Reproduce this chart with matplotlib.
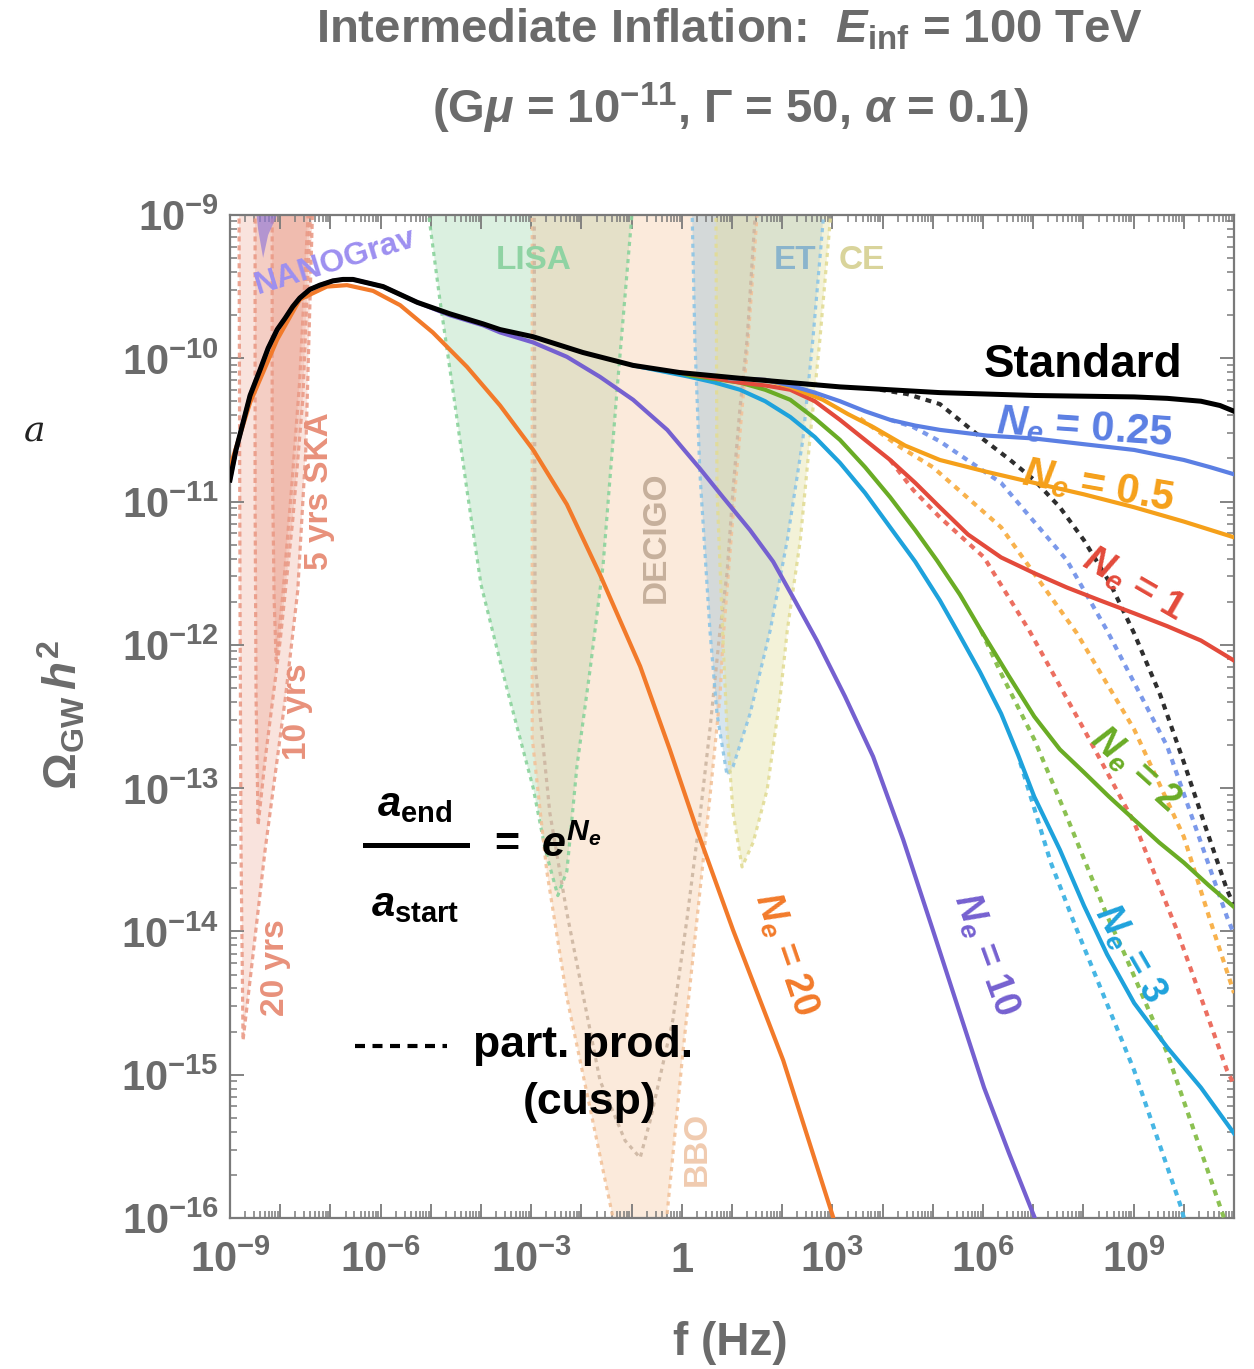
import numpy as np
import matplotlib
matplotlib.use("Agg")
import matplotlib.pyplot as plt
from matplotlib import font_manager as fm
from matplotlib.ticker import FixedLocator, FixedFormatter, NullFormatter

# ---------------- data (log10 f [Hz], log10 Omega h^2) ----------------
std_lf = [-9.0, -8.88, -8.74, -8.60, -8.40, -8.24, -8.06, -7.90, -7.75, -7.61, -7.41, -7.21, -6.95,
          -6.75, -6.55, -5.95, -5.27, -4.62, -3.96, -3.62, -2.96, -1.97, -0.97, -0.04, 1.16, 3.15,
          5.14, 7.02, 9.01, 9.67, 10.34, 10.72, 11.0]
std_lo = [-10.85, -10.64, -10.45, -10.26, -10.08, -9.93, -9.80, -9.72, -9.64, -9.58, -9.52, -9.49, -9.46,
          -9.45, -9.45, -9.50, -9.61, -9.69, -9.76, -9.80, -9.85, -9.96, -10.05, -10.10, -10.14, -10.20,
          -10.24, -10.26, -10.27, -10.28, -10.30, -10.33, -10.37]

ne20_lf = [-9.0, -8.60, -8.06, -7.61, -7.07, -6.67, -6.15, -5.61, -4.96, -4.28, -3.62, -2.96, -2.29,
           -1.63, -0.83, -0.24, 0.30, 1.02, 2.02, 3.01]
ne20_lo = [-10.76, -10.31, -9.87, -9.59, -9.50, -9.49, -9.53, -9.63, -9.82, -10.06, -10.33, -10.64, -11.02,
           -11.51, -12.15, -12.73, -13.29, -13.99, -14.90, -15.99]

ne10_lf = [-9.0, -8.88, -8.74, -8.60, -8.40, -8.24, -8.06, -7.90, -7.75, -7.61, -7.41, -7.21, -6.95,
           -6.75, -6.55, -5.95, -5.27, -4.62, -3.96, -3.62, -2.96, -2.29, -1.63, -0.97, -0.29, 0.36,
           0.82, 1.36, 1.82, 2.25, 2.69, 3.25, 3.81, 4.41, 5.00, 5.50, 6.02, 6.52, 7.02]
ne10_lo = [-10.85, -10.64, -10.45, -10.26, -10.08, -9.93, -9.80, -9.72, -9.64, -9.58, -9.52, -9.49, -9.46,
           -9.45, -9.45, -9.50, -9.61, -9.70, -9.77, -9.82, -9.89, -9.99, -10.13, -10.29, -10.50, -10.77,
           -10.97, -11.20, -11.42, -11.69, -11.97, -12.36, -12.78, -13.36, -13.99, -14.53, -15.09, -15.55,
           -15.99]

ne3_lf = [-0.97, 0.16, 0.66, 1.16, 1.66, 2.16, 2.65, 3.15, 3.65, 4.15, 4.65, 5.14, 5.48, 5.94, 6.36, 6.70,
          7.02, 7.53, 8.01, 8.47, 9.01, 9.67, 10.34, 11.0]
ne3_lo = [-10.05, -10.13, -10.17, -10.22, -10.30, -10.41, -10.55, -10.73, -10.94, -11.18, -11.42, -11.69,
          -11.90, -12.19, -12.48, -12.77, -13.06, -13.43, -13.82, -14.16, -14.50, -14.81, -15.09, -15.41]

ne2_lf = [-0.04, 0.16, 1.16, 1.66, 2.16, 2.65, 3.15, 3.65, 4.15, 4.65, 5.08, 5.54, 5.96, 6.50, 7.02, 7.53,
          8.01, 8.51, 9.01, 9.51, 10.0, 10.50, 11.0]
ne2_lo = [-10.10, -10.12, -10.17, -10.22, -10.29, -10.42, -10.57, -10.76, -10.97, -11.20, -11.41, -11.65,
          -11.90, -12.21, -12.50, -12.73, -12.89, -13.06, -13.22, -13.38, -13.52, -13.68, -13.83]

ne1_lf = [-0.04, 0.16, 1.16, 1.66, 2.16, 2.65, 3.15, 3.65, 4.15, 4.65, 5.14, 5.70, 6.36, 7.02, 7.67, 8.33,
          9.01, 9.67, 10.34, 11.0]
ne1_lo = [-10.10, -10.11, -10.17, -10.19, -10.22, -10.30, -10.43, -10.57, -10.71, -10.87, -11.04, -11.23,
          -11.39, -11.50, -11.60, -11.69, -11.78, -11.87, -11.97, -12.11]

ne05_lf = [0.96, 1.66, 2.16, 2.81, 3.31, 3.81, 4.45, 5.14, 6.04, 7.02, 8.01, 9.01, 10.0, 11.0]
ne05_lo = [-10.14, -10.15, -10.20, -10.29, -10.39, -10.48, -10.61, -10.71, -10.79, -10.87, -10.95, -11.04,
           -11.14, -11.25]

ne025_lf = [0.96, 1.66, 2.16, 2.65, 3.15, 3.65, 4.15, 4.65, 5.14, 6.08, 7.02, 8.01, 9.01, 10.0, 10.52, 11.0]
ne025_lo = [-10.14, -10.15, -10.19, -10.24, -10.30, -10.37, -10.43, -10.47, -10.50, -10.54, -10.56, -10.60,
            -10.64, -10.71, -10.76, -10.81]

# particle production (cusp) curves
pp_std_lf = [3.95, 4.49, 5.14, 6.02, 6.54, 7.02, 7.53, 8.01, 8.53, 9.01, 9.53, 10.0, 10.44, 10.86, 11.0]
pp_std_lo = [-10.22, -10.25, -10.32, -10.57, -10.71, -10.85, -11.04, -11.27, -11.57, -11.92, -12.35,
             -12.82, -13.28, -13.71, -13.82]
pp025_lf = [4.15, 4.61, 5.14, 6.36, 7.67, 8.47, 9.67, 10.86, 11.0]
pp025_lo = [-10.43, -10.48, -10.58, -10.87, -11.41, -11.90, -12.71, -13.90, -14.02]
pp05_lf = [3.55, 4.35, 5.0, 6.36, 7.87, 9.01, 10.0, 10.54, 11.0]
pp05_lo = [-10.42, -10.62, -10.76, -11.18, -11.92, -12.59, -13.34, -13.94, -14.43]
pp1_lf = [4.15, 4.61, 5.14, 6.02, 6.92, 8.01, 9.01, 9.86, 10.86, 11.0]
pp1_lo = [-10.71, -10.92, -11.11, -11.39, -11.90, -12.59, -13.24, -13.99, -14.97, -15.07]
pp2_lf = [5.96, 6.36, 7.02, 7.67, 8.47, 8.81, 9.67, 10.8]
pp2_lo = [-11.90, -12.20, -12.66, -13.20, -13.89, -14.15, -14.85, -16.0]
pp3_lf = [6.74, 7.35, 7.87, 9.01, 9.94, 10.0]
pp3_lo = [-12.82, -13.52, -13.99, -14.97, -15.92, -16.0]

# sensitivity regions (closed outlines)
ska20_lf = [-8.82, -8.80, -8.78, -8.74, -8.60, -8.30, -7.90, -7.65, -7.49, -7.35]
ska20_lo = [-8.90, -11.69, -13.43, -14.76, -14.34, -13.43, -12.38, -11.62, -10.64, -8.90]
ska10_lf = [-8.50, -8.50, -8.48, -8.44, -8.30, -8.00, -7.75, -7.55, -7.39]
ska10_lo = [-8.90, -10.99, -12.38, -13.26, -12.80, -11.97, -11.13, -10.29, -8.90]
ska5_lf = [-8.16, -8.16, -8.12, -8.08, -7.94, -7.76, -7.61, -7.43]
ska5_lo = [-8.90, -10.64, -11.69, -12.11, -11.62, -10.85, -10.15, -8.90]
nano_lf = [-8.50, -8.44, -8.34, -8.24, -8.06, -8.04]
nano_lo = [-8.90, -9.10, -9.30, -9.14, -9.0, -8.90]
lisa_lf = [-5.08, -4.82, -4.56, -4.28, -4.00, -3.48, -2.96, -2.72, -2.47, -2.29, -2.19, -2.09, -1.83,
           -1.57, -1.29, -0.97]
lisa_lo = [-8.90, -9.59, -10.22, -10.92, -11.58, -12.31, -13.00, -13.43, -13.75, -13.58, -13.22, -12.85,
           -12.18, -11.45, -10.22, -8.90]
bbo_lf = [-2.98, -2.98, -2.69, -2.29, -1.77, -1.37, -1.27, -0.29, -0.29, 0.02, 0.30, 0.56, 0.76, 0.82,
          1.06, 1.32, 1.52]
bbo_lo = [-8.90, -12.65, -13.58, -14.46, -15.33, -16.0, -16.15, -16.15, -15.96, -14.85, -13.92, -13.06,
          -12.36, -11.97, -10.92, -9.87, -8.90]
decigo_lf = [-2.94, -2.92, -2.63, -2.29, -1.63, -1.13, -0.83, -0.63, -0.18, 0.10, 0.36, 0.56, 0.76, 0.90,
             1.02, 1.16, 1.30, 1.48]
decigo_lo = [-8.90, -12.15, -13.17, -13.87, -15.04, -15.46, -15.58, -15.32, -14.62, -13.92, -13.20, -12.59,
             -11.90, -11.50, -10.92, -10.34, -9.87, -8.90]
et_lf = [0.20, 0.26, 0.36, 0.56, 0.70, 0.90, 1.02, 1.36, 1.76, 2.10, 2.41, 2.61, 2.85]
et_lo = [-8.90, -9.87, -10.80, -11.90, -12.48, -12.91, -12.85, -12.48, -11.90, -11.27, -10.57, -9.87, -8.90]
ce_lf = [0.68, 0.70, 0.82, 0.90, 1.02, 1.20, 1.42, 1.70, 1.96, 2.10, 2.36, 2.55, 2.75, 2.99]
ce_lo = [-8.90, -10.92, -11.97, -12.59, -13.17, -13.55, -13.38, -13.01, -12.36, -11.90, -11.27, -10.57,
         -9.87, -8.90]

x_decades = list(range(-9, 12))
x_labels = ["$10^{-9}$", "", "", "$10^{-6}$", "", "", "$10^{-3}$", "", "", "$1$", "", "", "$10^{3}$",
            "", "", "$10^{6}$", "", "", "$10^{9}$", "", ""]
y_decades = list(range(-16, -8))
y_labels = ["$10^{-16}$", "$10^{-15}$", "$10^{-14}$", "$10^{-13}$", "$10^{-12}$", "$10^{-11}$",
            "$10^{-10}$", "$10^{-9}$"]

# ---------------- fonts ----------------
installed = {f.name for f in fm.fontManager.ttflist}
NARROW = "Liberation Sans Narrow" if "Liberation Sans Narrow" in installed else "Liberation Sans"
SANS = "Liberation Sans"
plt.rcParams["mathtext.fontset"] = "custom"
plt.rcParams["mathtext.rm"] = NARROW + ":bold"
plt.rcParams["mathtext.bf"] = NARROW + ":bold"
plt.rcParams["mathtext.it"] = SANS + ":bold:italic"
plt.rcParams["mathtext.sf"] = SANS + ":bold"

GRAY = "#6b6b6b"
AXC = "#7a7a7a"


def P(lf, lo):
    return 10.0 ** np.asarray(lf), 10.0 ** np.asarray(lo)


fig = plt.figure(figsize=(12.54, 13.69), dpi=100)
ax = fig.add_axes([0.1834, 0.1103, 0.8007, 0.7327])
ax.set_xscale("log")
ax.set_yscale("log")

# ---------------- regions ----------------
def region(lf, lo, face, alpha, edge, ls=(0, (1.3, 1.4)), lw=2.3):
    x, y = P(lf, lo)
    if face is not None:
        ax.fill(x, y, color=face, alpha=alpha, lw=0, zorder=1)
    ax.plot(np.append(x, x[0]), np.append(y, y[0]), color=edge, lw=lw, ls=ls, zorder=2, alpha=0.9)

ska_dash = (0, (1.6, 1.2))
region(ska20_lf, ska20_lo, "#e8907a", 0.25, "#ea9a86", ska_dash)
region(ska10_lf, ska10_lo, "#e8907a", 0.25, "#ea9a86", ska_dash)
region(ska5_lf, ska5_lo, "#e8907a", 0.28, "#ea9a86", ska_dash)
ax.fill(*P(nano_lf, nano_lo), color="#9077d8", alpha=0.65, lw=0, zorder=2)
region(lisa_lf, lisa_lo, "#8fd3a0", 0.32, "#8ad39c")
region(bbo_lf, bbo_lo, "#f5c8a2", 0.38, "#f2c29a")
region(decigo_lf, decigo_lo, None, 0, "#cdb6a2")
region(et_lf, et_lo, "#9ec3d8", 0.42, "#8cc5e6")
region(ce_lf, ce_lo, "#e3e0a4", 0.42, "#e2dc96")

# ---------------- curves ----------------
dot = (0, (1.4, 1.4))
for lf, lo, c in [(pp_std_lf, pp_std_lo, "#2e2e2e"), (pp025_lf, pp025_lo, "#7b99ea"),
                  (pp05_lf, pp05_lo, "#f8b24d"), (pp1_lf, pp1_lo, "#ec6f61"),
                  (pp2_lf, pp2_lo, "#8cc152"), (pp3_lf, pp3_lo, "#47b6e4")]:
    ax.plot(*P(lf, lo), color=c, lw=3.0, ls=dot, zorder=3, solid_capstyle="butt")

for lf, lo, c in [(ne20_lf, ne20_lo, "#f27a2a"), (ne10_lf, ne10_lo, "#7560d0"),
                  (ne3_lf, ne3_lo, "#1ea2dc"), (ne2_lf, ne2_lo, "#6aac25"),
                  (ne1_lf, ne1_lo, "#e34a3b"), (ne05_lf, ne05_lo, "#f5a01a"),
                  (ne025_lf, ne025_lo, "#5b7fe3")]:
    ax.plot(*P(lf, lo), color=c, lw=3.0, zorder=4, solid_joinstyle="round")

ax.plot(*P(std_lf, std_lo), color="black", lw=3.6, zorder=5, solid_joinstyle="round")

ax.set_xlim(1e-9, 1e11)
ax.set_ylim(1e-16, 1e-9)

# ---------------- axes styling ----------------
for s in ax.spines.values():
    s.set_color(AXC)
    s.set_linewidth(1.6)
ax.xaxis.set_major_locator(FixedLocator([10.0 ** d for d in x_decades]))
ax.xaxis.set_major_formatter(FixedFormatter(x_labels))
ax.yaxis.set_major_locator(FixedLocator([10.0 ** d for d in y_decades]))
ax.yaxis.set_major_formatter(FixedFormatter(y_labels))
ax.xaxis.set_minor_locator(FixedLocator([m * 10.0 ** d for d in x_decades[:-1] for m in range(2, 10)]))
ax.yaxis.set_minor_locator(FixedLocator([m * 10.0 ** d for d in y_decades[:-1] for m in range(2, 10)]))
ax.xaxis.set_minor_formatter(NullFormatter())
ax.yaxis.set_minor_formatter(NullFormatter())
ax.tick_params(which="both", direction="in", top=True, right=True, color=AXC,
               labelcolor=GRAY, labelsize=30)
ax.tick_params(which="major", length=10, width=1.3)
ax.tick_params(which="minor", length=5, width=1.1)
ax.tick_params(axis="x", pad=15)
ax.tick_params(axis="y", pad=8)

# ---------------- labels ----------------
def T(lf, lo, s, color, size=24, rot=0, family=SANS, ha="center", va="center"):
    ax.text(10.0 ** lf, 10.0 ** lo, s, color=color, fontsize=size, rotation=rot, ha=ha, va=va,
            family=family, weight="bold", zorder=6, rotation_mode="anchor")

T(-2.96, -9.32, "LISA", "#8fd3a3", 24)
T(2.25, -9.32, "ET", "#8ab4cc", 24)
T(3.59, -9.32, "CE", "#d9d49b", 24)
T(-6.91, -9.33, "NANOGrav", "#9d8ff0", 23, rot=17)
T(-0.51, -11.25, "DECIGO", "#c6b09c", 24, rot=90)
T(0.30, -15.52, "BBO", "#f0cbb0", 24, rot=90)
T(-7.21, -10.93, "5 yrs SKA", "#e8917b", 24, rot=90)
T(-7.65, -12.47, "10 yrs", "#e8917b", 24, rot=90)
T(-8.10, -14.25, "20 yrs", "#e8917b", 24, rot=90)

T(7.99, -10.05, "Standard", "black", 33)
T(8.03, -10.49, "$N_e$ = 0.25", "#5b7fe3", 30, rot=-4)
T(8.29, -10.90, "$N_e$ = 0.5", "#f5a01a", 30, rot=-10)
T(8.99, -11.58, "$N_e$ = 1", "#e34a3b", 28, rot=-30)
T(9.03, -12.87, "$N_e$ = 2", "#6aac25", 27, rot=-42)
T(8.93, -14.16, "$N_e$ = 3", "#1ea2dc", 27, rot=-60)
T(6.04, -14.16, "$N_e$ = 10", "#7560d0", 27, rot=-70)
T(2.06, -14.16, "$N_e$ = 20", "#f27a2a", 27, rot=-71)

# a_end / a_start = e^{N_e}
ax.plot([0.1345, 0.236], [0.372, 0.372], color="black", lw=3.6, transform=ax.transAxes, zorder=6)
ax.text(0.184, 0.413, r"$a_{\mathsf{end}}$", transform=ax.transAxes, ha="center", va="center",
        fontsize=30, zorder=6)
ax.text(0.184, 0.313, r"$a_{\mathsf{start}}$", transform=ax.transAxes, ha="center", va="center",
        fontsize=30, zorder=6)
ax.text(0.256, 0.372, r"$\mathsf{=}$ $e^{N_e}$", transform=ax.transAxes, ha="left", va="center",
        fontsize=31, zorder=6)

# legend for dotted curves
ax.plot([0.1245, 0.216], [0.1715, 0.1715], color="black", lw=3.0, ls=(0, (2.4, 1.8)),
        transform=ax.transAxes, zorder=6)
ax.text(0.242, 0.1715, "part. prod.", transform=ax.transAxes, ha="left", va="center",
        fontsize=32, weight="bold", family=SANS, zorder=6)
ax.text(0.3586, 0.1147, "(cusp)", transform=ax.transAxes, ha="center", va="center",
        fontsize=32, weight="bold", family=SANS, zorder=6)

# axis labels and title
fig.text(62 / 1254, 1 - 715 / 1369, r"$\Omega_{\mathrm{GW}}\,h^2$", rotation=90, ha="center",
         va="center", color=GRAY, fontsize=33)
fig.text(730 / 1254, 1 - 1343 / 1369, "f (Hz)", ha="center", va="center", color=GRAY,
         fontsize=33, family=NARROW, weight="bold")
fig.text(730 / 1254, 1 - 30 / 1369, r"Intermediate Inflation:  $E_{\mathrm{inf}}$ = 100 TeV",
         ha="center", va="center", color=GRAY, fontsize=34, family=NARROW, weight="bold")
fig.text(730 / 1254, 1 - 108 / 1369, r"(G$\mu$ = 10$^{-11}$, $\Gamma$ = 50, $\alpha$ = 0.1)",
         ha="center", va="center", color=GRAY, fontsize=34, family=NARROW, weight="bold")
fig.text(35 / 1254, 1 - 432 / 1369, "a", ha="center", va="center", color="#222222",
         fontsize=26, family="DejaVu Serif", style="italic")

fig.savefig("out.png", dpi=100)
